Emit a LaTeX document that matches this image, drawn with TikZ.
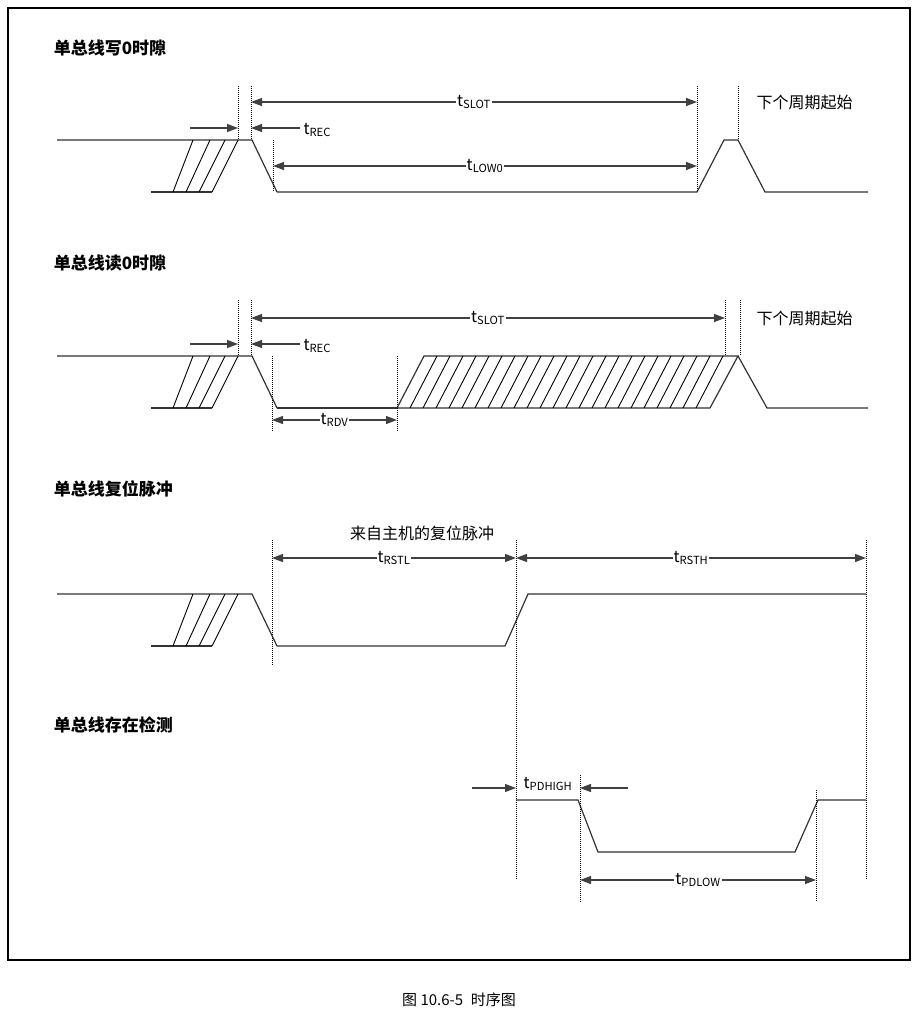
\documentclass[tikz,border=0pt]{standalone}
\usepackage{fontspec}
\setmainfont{Noto Sans CJK SC}
\usetikzlibrary{arrows.meta,positioning}

\begin{document}
\begin{tikzpicture}[x=1pt,y=-1pt,line width=1.1pt,
  wave/.style={draw=black!80,line width=1.2pt},
  guide/.style={densely dotted,line width=1pt},
  dim/.style={draw=black!75,line width=1.2pt,{Triangle[length=11pt,width=8pt]}-{Triangle[length=11pt,width=8pt]}},
  tip/.style={draw=black!75,line width=1.2pt,-{Triangle[length=11pt,width=8pt]}},
  lbl/.style={fill=white,inner sep=1pt,font=\fontsize{16}{18}\selectfont},
  ttl/.style={anchor=west,font=\fontsize{17}{20}\selectfont\bfseries}]
\useasboundingbox (0,0) rectangle (918,1017);
\draw[line width=2pt] (8,8) rectangle (910,960);
\node (cap) at (459,1000) {\fontsize{15}{17}\selectfont 图 10.6-5\enspace 时序图};
% titles
\foreach \y/\t in {48/单总线写0时隙,263/单总线读0时隙,489/单总线复位脉冲,725/单总线存在检测} {
   \node[ttl] at (50,\y) {\t};
}
% lead-in with hatched edge
\foreach \h/\l in {140/192,356/408,594/646} {
   \draw[wave] (57,\h) -- (252,\h) -- (277,\l);
   \draw[wave] (151,\l) -- (212,\l);
   \foreach \b/\tp in {173/193,186/210,199/225,212/238}
      \draw[line width=0.9pt] (\b,\l) -- (\tp,\h);
}
% write 0
\draw[wave] (277,192) -- (697,192) -- (724,140) -- (738,140) -- (765,192) -- (868,192);
\foreach \x/\a/\b in {238/86/140,251/86/140,273/140/192,697/86/192,738/86/140}
   \draw[guide] (\x,\a) -- (\x,\b);
\coordinate (w1) at (251,102); \coordinate (w2) at (697,102);
\draw[dim] (w1) -- node[lbl]{t\textsubscript{SLOT}} (w2);
\coordinate (w3) at (273,166); \coordinate (w4) at (697,166);
\draw[dim] (w3) -- node[lbl]{t\textsubscript{LOW0}} (w4);
\coordinate (w5) at (190,128); \coordinate (w6) at (238,128);
\coordinate (w7) at (300,128); \coordinate (w8) at (251,128);
\draw[tip] (w5) -- (w6);
\draw[tip] (w7) -- (w8);
\node[lbl,anchor=west] (rec1) at (302,130) {t\textsubscript{REC}};
\node[lbl,anchor=west] (nxt1) at (755,102) {下个周期起始};
% read 0
\draw[wave] (277,408) -- (397,408);
\draw[wave] (397,408) -- (424,356) -- (738,356) -- (710,408) -- cycle;
\foreach \k in {1,...,23}
   \draw[line width=0.9pt] (397+13*\k,408) -- (424+13*\k,356);
\draw[wave] (738,356) -- (767,408) -- (868,408);
\foreach \x/\a/\b in {238/300/356,251/300/356,272/356/432,397/356/432,725/300/356,740/300/356}
   \draw[guide] (\x,\a) -- (\x,\b);
\coordinate (r1) at (251,318); \coordinate (r2) at (725,318);
\draw[dim] (r1) -- node[lbl]{t\textsubscript{SLOT}} (r2);
\coordinate (r3) at (272,420); \coordinate (r4) at (397,420);
\draw[dim] (r3) -- node[lbl]{t\textsubscript{RDV}} (r4);
\coordinate (r5) at (190,344); \coordinate (r6) at (238,344);
\coordinate (r7) at (300,344); \coordinate (r8) at (251,344);
\draw[tip] (r5) -- (r6);
\draw[tip] (r7) -- (r8);
\node[lbl,anchor=west] (rec2) at (302,346) {t\textsubscript{REC}};
\node[lbl,anchor=west] (nxt2) at (755,318) {下个周期起始};
% reset
\draw[wave] (277,646) -- (505,646) -- (528,594) -- (866,594);
\foreach \x/\a/\b in {272/540/665,516/540/880,866/540/600}
   \draw[guide] (\x,\a) -- (\x,\b);
\coordinate (s1) at (272,558); \coordinate (s2) at (516,558);
\draw[dim] (s1) -- node[lbl]{t\textsubscript{RSTL}} (s2);
\coordinate (s3) at (516,558); \coordinate (s4) at (866,558);
\draw[dim] (s3) -- node[lbl]{t\textsubscript{RSTH}} (s4);
\node[lbl] (host) at (422,533) {来自主机的复位脉冲};
% presence
\draw[wave] (516,800) -- (578,800) -- (598,852) -- (795,852) -- (818,800) -- (866,800);
\foreach \x/\a/\b in {580/775/902,816/790/902,866/600/880}
   \draw[guide] (\x,\a) -- (\x,\b);
\coordinate (p1) at (472,788); \coordinate (p2) at (516,788);
\coordinate (p3) at (628,788); \coordinate (p4) at (580,788);
\draw[tip] (p1) -- (p2);
\draw[tip] (p3) -- (p4);
\node[lbl,inner sep=0pt] (pdh) at (548,784) {t\textsubscript{PDHIGH}};
\coordinate (p5) at (580,880); \coordinate (p6) at (816,880);
\draw[dim] (p5) -- node[lbl]{t\textsubscript{PDLOW}} (p6);
\end{tikzpicture}
\end{document}
